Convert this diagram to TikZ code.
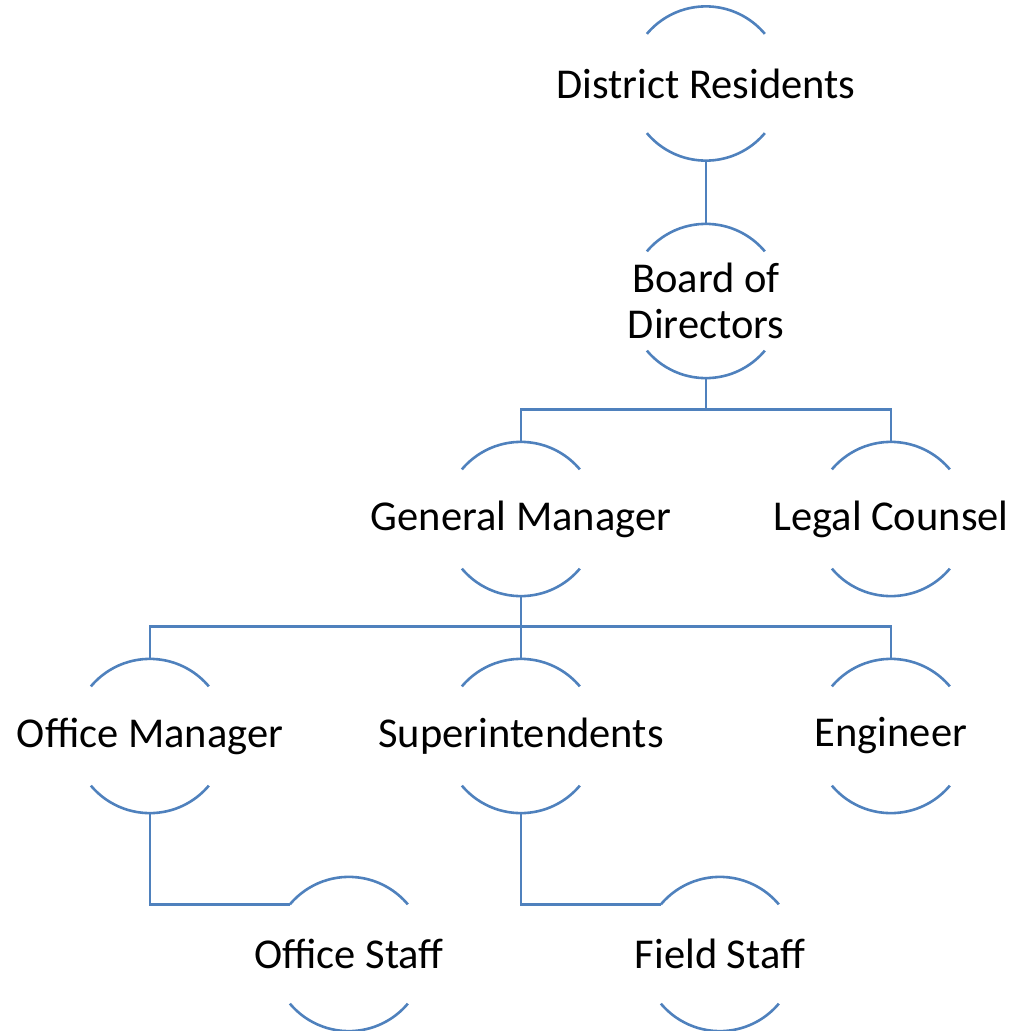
\documentclass[tikz,border=0pt]{standalone}
\usepackage{fontspec}
\setmainfont{Carlito}
\definecolor{lineblue}{RGB}{79,129,189}
\tikzset{
  x=1pt,y=1pt,
  orgc/.style={circle,minimum size=154pt,inner sep=0pt,draw=none},
  lbl/.style={font=\fontsize{42.5}{46.5}\selectfont,align=center,text=black,inner sep=0pt},
  arcline/.style={draw=lineblue,line width=2.6pt},
  conn/.style={draw=lineblue,line width=2.6pt}
}
\newcommand{\orgnode}[4]{%
  \node[orgc] (#1) at (#2,#3) {};
  \node[lbl] (#1-t) at (#1) {#4};
  \draw[arcline] (#1.140) arc[start angle=140,end angle=40,radius=77pt];
  \draw[arcline] (#1.220) arc[start angle=220,end angle=320,radius=77pt];
}
\begin{document}
\begin{tikzpicture}
\useasboundingbox (0,0) rectangle (1015,-1031);
\orgnode{dr}{706}{-83.5}{District Residents}
\orgnode{bd}{706}{-301}{Board of\\Directors}
\orgnode{gm}{521}{-519}{General Manager}
\orgnode{lc}{891}{-519}{Legal Counsel}
\orgnode{om}{150}{-736}{Office Manager}
\orgnode{su}{521}{-736}{Superintendents}
\orgnode{en}{891}{-736}{Engineer}
\orgnode{os}{349}{-954}{Office Staff}
\orgnode{fs}{720}{-954}{Field Staff}
\draw[conn] (dr.south) -- (bd.north);
\draw[conn] (bd.south) -- ++(0,-31) -| (gm.north);
\draw[conn] (bd.south) -- ++(0,-31) -| (lc.north);
\draw[conn] (gm.south) -- (su.north);
\draw[conn] (gm.south) -- ++(0,-30) -| (om.north);
\draw[conn] (gm.south) -- ++(0,-30) -| (en.north);
\draw[conn] (om.south) |- (os.140);
\draw[conn] (su.south) |- (fs.140);
\end{tikzpicture}
\end{document}
